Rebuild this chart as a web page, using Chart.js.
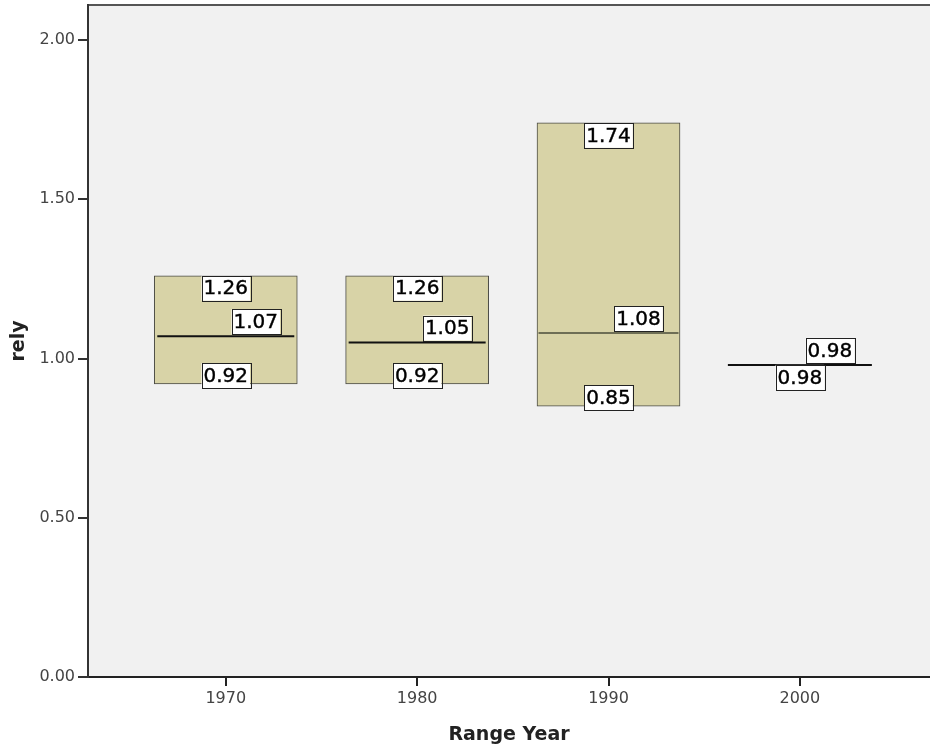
<!DOCTYPE html>
<html lang="en">
<head>
  <meta charset="UTF-8">
  <title>rely by Range Year</title>
  <script src="https://cdn.jsdelivr.net/npm/chart.js"></script>
  <style>
    body { margin: 0; background: #fff; }
    #wrap { width: 930px; height: 750px; }
  </style>
</head>
<body>
  <div id="wrap"><canvas id="grafica" width="930" height="750"></canvas></div>

  <script>
    // datos
    const years = [1970, 1980, 1990, 2000];
    const lowVals = [0.92, 0.92, 0.85, 0.98];
    const highVals = [1.26, 1.26, 1.74, 0.98];
    const medianVals = [1.07, 1.05, 1.08, 0.98];
    const yTicks = [0, 0.5, 1.0, 1.5, 2.0];

    const medianColors = ['#111', '#111', '#6e6e55', '#111'];
    const medianRadius = [68.5, 68.5, 70, 72];

    // fondo gris del area y borde superior
    const fondo = {
      id: 'fondo',
      beforeDraw(chart) {
        const { ctx, chartArea: a } = chart;
        ctx.save();
        ctx.fillStyle = '#f1f1f1';
        ctx.fillRect(a.left, a.top, a.right - a.left, a.bottom - a.top);
        ctx.strokeStyle = '#555';
        ctx.lineWidth = 2;
        ctx.beginPath();
        ctx.moveTo(a.left, a.top);
        ctx.lineTo(a.right, a.top);
        ctx.stroke();
        ctx.restore();
      }
    };

    function etiqueta(ctx, txt, cx, top) {
      const w = ctx.measureText(txt).width + 4;
      const h = 25;
      ctx.fillStyle = '#fff';
      ctx.fillRect(cx - w / 2, top, w, h);
      ctx.strokeStyle = '#222';
      ctx.lineWidth = 1;
      ctx.strokeRect(Math.round(cx - w / 2) + 0.5, Math.round(top) + 0.5, Math.round(w), h);
      ctx.fillStyle = '#000';
      ctx.fillText(txt, cx, top + h / 2 + 1);
      ctx.strokeStyle = '#000';
      ctx.lineWidth = 0.4;
      ctx.strokeText(txt, cx, top + h / 2 + 1);
    }

    // etiquetas de valores (alto, bajo, mediana)
    const etiquetas = {
      id: 'etiquetas',
      afterDatasetsDraw(chart) {
        const { ctx, scales: { x, y } } = chart;
        ctx.save();
        ctx.font = '20px "DejaVu Sans"';
        ctx.textAlign = 'center';
        ctx.textBaseline = 'middle';
        years.forEach((yr, i) => {
          const px = x.getPixelForValue(yr);
          const yH = y.getPixelForValue(highVals[i]);
          const yL = y.getPixelForValue(lowVals[i]);
          const yM = y.getPixelForValue(medianVals[i]);
          etiqueta(ctx, highVals[i].toFixed(2), px, yH);
          if (lowVals[i] !== highVals[i]) etiqueta(ctx, lowVals[i].toFixed(2), px, yL - 21);
          etiqueta(ctx, medianVals[i].toFixed(2), px + 30, yM - 27);
        });
        ctx.restore();
      }
    };

    const ctx = document.getElementById('grafica').getContext('2d');
    new Chart(ctx, {
      data: {
        datasets: [
          {
            type: 'line',
            data: years.map((yr, i) => ({ x: yr, y: medianVals[i] })),
            showLine: false,
            pointStyle: 'line',
            pointRadius: medianRadius,
            pointBorderWidth: 2,
            pointBorderColor: medianColors,
            clip: false,
            order: 0
          },
          {
            type: 'bar',
            data: years.map((yr, i) => ({ x: yr, y: [lowVals[i], highVals[i]] })),
            backgroundColor: '#d8d3a7',
            borderColor: '#4a4a44',
            borderWidth: 1,
            borderSkipped: false,
            barThickness: 143,
            order: 1
          }
        ]
      },
      options: {
        responsive: false,
        animation: false,
        layout: { autoPadding: false, padding: { top: 5, left: 0, right: 0, bottom: 0 } },
        plugins: { legend: { display: false }, tooltip: { enabled: false } },
        scales: {
          x: {
            type: 'linear',
            offset: false,
            min: 1962.8,
            max: 2006.8,
            afterBuildTicks: s => { s.ticks = years.map(v => ({ value: v })); },
            afterFit: s => { s.height = 73; s.paddingLeft = 0; s.paddingRight = 0; },
            ticks: {
              callback: v => String(v),
              font: { family: 'DejaVu Sans', size: 16 },
              color: '#444',
              padding: 3,
              maxRotation: 0
            },
            grid: { offset: false, drawOnChartArea: false, tickLength: 9, color: '#222', lineWidth: 2 },
            border: { color: '#222', width: 2 },
            title: {
              display: true,
              text: 'Range Year',
              font: { family: 'DejaVu Sans', size: 19, weight: 'bold' },
              color: '#222',
              padding: { top: 8 }
            }
          },
          y: {
            min: 0,
            max: 2.11,
            afterBuildTicks: s => { s.ticks = yTicks.map(v => ({ value: v })); },
            afterFit: s => { s.width = 88; s.paddingTop = 0; s.paddingBottom = 0; },
            ticks: {
              callback: v => v.toFixed(2),
              font: { family: 'DejaVu Sans', size: 16 },
              color: '#444',
              padding: 3
            },
            grid: { drawOnChartArea: false, tickLength: 10, color: '#333', lineWidth: 2 },
            border: { color: '#333', width: 2 },
            title: {
              display: true,
              text: 'rely',
              font: { family: 'DejaVu Sans', size: 19, weight: 'bold' },
              color: '#222',
              padding: { top: 8 }
            }
          }
        }
      },
      plugins: [fondo, etiquetas]
    });
  </script>
</body>
</html>
